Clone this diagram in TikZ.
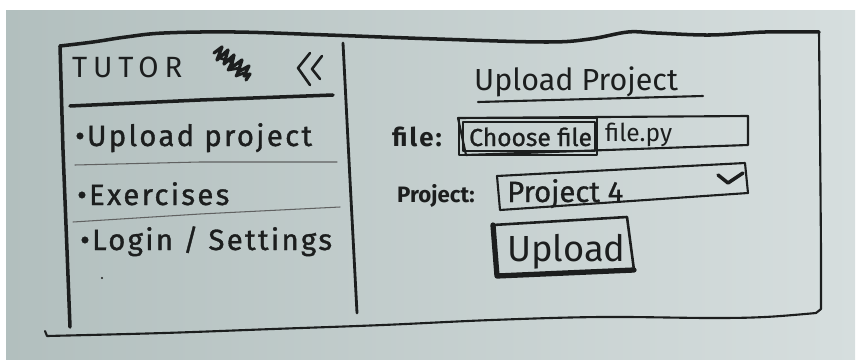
\documentclass[tikz,border=0pt]{standalone}
\usepackage{fontspec}
\setmainfont{Fira Sans}
\usetikzlibrary{calc}

\definecolor{ink}{RGB}{28,30,30}
\definecolor{paperdark}{RGB}{178,191,190}
\definecolor{paperlight}{RGB}{214,222,222}

\begin{document}
\begin{tikzpicture}[x=0.03cm, y=-0.03cm,
    pen/.style={draw=ink, line cap=round, line join=round},
    heavy/.style={pen, line width=3pt},
    medium/.style={pen, line width=1.8pt},
    faint/.style={draw=ink!70, line width=0.9pt, line cap=round},
    label/.style={inner sep=0pt, anchor=base west, text=ink},
    menu/.style={label, font=\fontsize{25}{25}\selectfont\addfontfeature{LetterSpace=8,FakeBold=1.2}}
]

% Paper
\useasboundingbox (0,0) rectangle (857,360);
\shade[left color=paperdark, right color=paperlight] (6,10) rectangle (855,360);

% Outer frame
\draw[heavy] plot[smooth, tension=0.6] coordinates {(60,46) (93,42) (126,37) (164,33)
  (235,32) (328,35) (437,39) (546,42) (590,39) (628,32) (656,33) (710,35) (765,32) (819,32)};
\draw[medium] (819,32) -- (820,130) -- (821,250) -- (821,309) -- (816,313);
\draw[medium] plot[smooth, tension=0.6] coordinates {(816,313) (765,317) (710,318) (601,317)
  (492,320) (383,325) (273,329) (164,333) (47,336)} -- (45,331);
\draw[heavy] (60,46) -- (63,150) -- (67,250) -- (70,327);

% Sidebar
\draw[medium, line width=2.4pt] (343,43) -- (350,180) -- (357,313);
\node[label, font=\fontsize{25}{25}\selectfont\addfontfeature{LetterSpace=20}] (brand) at (72,77) {TUTOR};
% scribbled logo
\draw[heavy, line width=2.8pt] (214,53) -- (222,47) -- (217,60) -- (228,50) -- (224,64) -- (234,55)
  -- (231,68) -- (242,60) -- (238,72) -- (249,66) -- (244,76) -- (250,74) -- (246,80);
\draw[heavy, line width=2.4pt] (220,58) -- (232,62) -- (228,70) -- (240,68) -- (236,76) -- (244,73);
% collapse arrows
\draw[heavy, line width=2.2pt] (310,53) -- (298,68) -- (310,85);
\draw[heavy, line width=2.2pt] (322,56) -- (312,69) -- (320,79);
\draw[heavy] (70,106) -- (200,100) -- (333,95);

\node[menu] (upload) at (75,146) {•Upload project};
\draw[faint] (75,165) -- (200,162) -- (337,162);
\node[menu] (exercises) at (77,205) {•Exercises};
\draw[faint] (73,222) -- (200,214) -- (340,207);
\node[menu] (login) at (80,250) {•Login / Settings};
\fill[ink] (102,278) circle (1.2);

% Upload form
\node[label, font=\fontsize{26}{26}\selectfont] (title) at (474,90) {Upload Project};
\draw[medium] (478,102) -- (703,96);

\node[label, font=\fontsize{22}{22}\selectfont\bfseries\addfontfeature{LetterSpace=8}] (filelbl) at (392,146) {file:};
\draw[medium] (458,118) -- (748,116) -- (748,145) -- (466,155) -- cycle;
\draw[medium] (459,118) rectangle (597,155);
\draw[medium, line width=1.4pt] (463,122) rectangle (595,151);
\node[label, font=\fontsize{21}{21}\selectfont\addfontfeature{FakeBold=1}] (choose) at (469,146) {Choose file};
\node[label, font=\fontsize{21}{21}\selectfont] (filename) at (605,141) {file.py};

\node[label, font=\fontsize{19}{19}\selectfont\bfseries] (projlbl) at (397,202) {Project:};
\draw[medium] (497,176) -- (745,163) -- (748,193) -- (500,210) -- cycle;
\node[label, font=\fontsize{25}{25}\selectfont\addfontfeature{FakeBold=1}] (project) at (507,202) {Project 4};
\draw[heavy] (718,175) -- (728,183) -- (743,173);

\draw[medium, line width=2.2pt] (493,225) -- (627,217) -- (634,270) -- (497,276) -- cycle;
\draw[heavy, line width=4.5pt] (493,225) -- (497,276) -- (634,270);
\node[label, font=\fontsize{31}{31}\selectfont] (button) at (507,261) {Upload};

\end{tikzpicture}
\end{document}
